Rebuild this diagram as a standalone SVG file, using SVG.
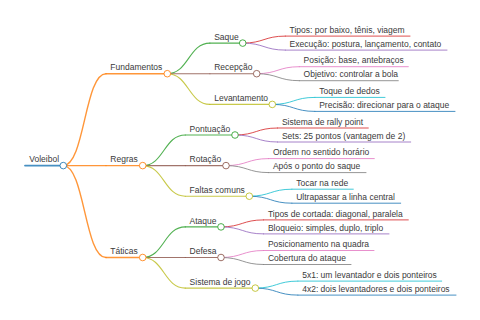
<svg xmlns="http://www.w3.org/2000/svg" width="480" height="320" viewBox="0 0 480 320">
<style>
text{font-family:"Liberation Sans",Arial,sans-serif;font-size:8.5px;fill:#3a3a3a}
path{fill:none;stroke-linecap:round;stroke-opacity:0.82}
circle{fill:#fff;stroke-width:1;stroke-opacity:0.85}
.d0{stroke-width:1.8}.d1{stroke-width:1.4}.d2{stroke-width:1.1}.d3{stroke-width:1}
.blue{stroke:#1f77b4}.orange{stroke:#ff7f0e}.green{stroke:#2ca02c}.brown{stroke:#8c564b}.olive{stroke:#bcbd22}
.red{stroke:#d62728}.purple{stroke:#9467bd}.pink{stroke:#e377c2}.grey{stroke:#7f7f7f}.cyan{stroke:#17becf}
</style>
<rect width="480" height="320" fill="#fff"/>
<g id="connectors">
<path class="d1 orange" d="M63.3 165.6C84.65 165.6 84.65 73.7 106 73.7"/>
<path class="d1 orange" d="M63.3 165.6L106 165.6"/>
<path class="d1 orange" d="M63.3 165.6C84.65 165.6 84.65 257.5 106 257.5"/>
<path class="d2 green" d="M167.3 73.7C188.6 73.7 188.6 43.1 209.9 43.1"/>
<path class="d2 brown" d="M167.3 73.7L209.9 73.7"/>
<path class="d2 olive" d="M167.3 73.7C188.6 73.7 188.6 104.4 209.9 104.4"/>
<path class="d2 green" d="M142.7 165.6C164 165.6 164 135 185.3 135"/>
<path class="d2 brown" d="M142.7 165.6L185.3 165.6"/>
<path class="d2 olive" d="M142.7 165.6C164 165.6 164 196.2 185.3 196.2"/>
<path class="d2 green" d="M142.7 257.5C164 257.5 164 226.9 185.3 226.9"/>
<path class="d2 brown" d="M142.7 257.5L185.3 257.5"/>
<path class="d2 olive" d="M142.7 257.5C164 257.5 164 288.1 185.3 288.1"/>
<path class="d3 red" d="M242.7 43.1C264 43.1 264 36.1 285.3 36.1"/>
<path class="d3 purple" d="M242.7 43.1C264 43.1 264 50.1 285.3 50.1"/>
<path class="d3 pink" d="M256.7 73.7C278 73.7 278 66.7 299.3 66.7"/>
<path class="d3 grey" d="M256.7 73.7C278 73.7 278 80.7 299.3 80.7"/>
<path class="d3 cyan" d="M272.3 104.4C293.6 104.4 293.6 97.4 314.9 97.4"/>
<path class="d3 blue" d="M272.3 104.4C293.6 104.4 293.6 111.4 314.9 111.4"/>
<path class="d3 red" d="M235 135C256.3 135 256.3 128 277.6 128"/>
<path class="d3 purple" d="M235 135C256.3 135 256.3 142 277.6 142"/>
<path class="d3 pink" d="M226 165.6C247.3 165.6 247.3 158.6 268.6 158.6"/>
<path class="d3 grey" d="M226 165.6C247.3 165.6 247.3 172.6 268.6 172.6"/>
<path class="d3 cyan" d="M249.3 196.2C270.6 196.2 270.6 189.2 291.9 189.2"/>
<path class="d3 blue" d="M249.3 196.2C270.6 196.2 270.6 203.2 291.9 203.2"/>
<path class="d3 red" d="M221 226.9C242.3 226.9 242.3 219.9 263.6 219.9"/>
<path class="d3 purple" d="M221 226.9C242.3 226.9 242.3 233.9 263.6 233.9"/>
<path class="d3 pink" d="M221 257.5C242.3 257.5 242.3 250.5 263.6 250.5"/>
<path class="d3 grey" d="M221 257.5C242.3 257.5 242.3 264.5 263.6 264.5"/>
<path class="d3 cyan" d="M255.3 288.1C276.6 288.1 276.6 281.1 297.9 281.1"/>
<path class="d3 blue" d="M255.3 288.1C276.6 288.1 276.6 295.1 297.9 295.1"/>
</g>
<g id="n-voleibol"><path class="d0 blue" d="M25 165.6H63.3"/><circle class="blue" cx="63.3" cy="165.6" r="3.3"/><text x="29.3" y="162.3">Voleibol</text></g>
<g id="n-fundamentos"><path class="d1 orange" d="M106 73.7H167.3"/><circle class="orange" cx="167.3" cy="73.7" r="3.3"/><text x="110.3" y="70.4">Fundamentos</text></g>
<g id="n-regras"><path class="d1 orange" d="M106 165.6H142.7"/><circle class="orange" cx="142.7" cy="165.6" r="3.3"/><text x="110.3" y="162.3">Regras</text></g>
<g id="n-taticas"><path class="d1 orange" d="M106 257.5H142.7"/><circle class="orange" cx="142.7" cy="257.5" r="3.3"/><text x="110.3" y="254.2">Táticas</text></g>
<g id="n-saque"><path class="d2 green" d="M209.9 43.1H242.7"/><circle class="green" cx="242.7" cy="43.1" r="3.3"/><text x="214.2" y="39.8">Saque</text></g>
<g id="n-recepcao"><path class="d2 brown" d="M209.9 73.7H256.7"/><circle class="brown" cx="256.7" cy="73.7" r="3.3"/><text x="214.2" y="70.4">Recepção</text></g>
<g id="n-levantamento"><path class="d2 olive" d="M209.9 104.4H272.3"/><circle class="olive" cx="272.3" cy="104.4" r="3.3"/><text x="214.2" y="101.1">Levantamento</text></g>
<g id="n-pontuacao"><path class="d2 green" d="M185.3 135H235"/><circle class="green" cx="235" cy="135" r="3.3"/><text x="189.6" y="131.7">Pontuação</text></g>
<g id="n-rotacao"><path class="d2 brown" d="M185.3 165.6H226"/><circle class="brown" cx="226" cy="165.6" r="3.3"/><text x="189.6" y="162.3">Rotação</text></g>
<g id="n-faltas"><path class="d2 olive" d="M185.3 196.2H249.3"/><circle class="olive" cx="249.3" cy="196.2" r="3.3"/><text x="189.6" y="192.9">Faltas comuns</text></g>
<g id="n-ataque"><path class="d2 green" d="M185.3 226.9H221"/><circle class="green" cx="221" cy="226.9" r="3.3"/><text x="189.6" y="223.6">Ataque</text></g>
<g id="n-defesa"><path class="d2 brown" d="M185.3 257.5H221"/><circle class="brown" cx="221" cy="257.5" r="3.3"/><text x="189.6" y="254.2">Defesa</text></g>
<g id="n-sistema"><path class="d2 olive" d="M185.3 288.1H255.3"/><circle class="olive" cx="255.3" cy="288.1" r="3.3"/><text x="189.6" y="284.8">Sistema de jogo</text></g>
<g id="l-tipos"><path class="d3 red" d="M285.3 36.1H410"/><text x="289.6" y="32.8">Tipos: por baixo, tênis, viagem</text></g>
<g id="l-execucao"><path class="d3 purple" d="M285.3 50.1H447"/><text x="289.6" y="46.8">Execução: postura, lançamento, contato</text></g>
<g id="l-posicao"><path class="d3 pink" d="M299.3 66.7H408.3"/><text x="303.6" y="63.4">Posição: base, antebraços</text></g>
<g id="l-objetivo"><path class="d3 grey" d="M299.3 80.7H398.3"/><text x="303.6" y="77.4">Objetivo: controlar a bola</text></g>
<g id="l-toque"><path class="d3 cyan" d="M314.9 97.4H385"/><text x="319.2" y="94.1">Toque de dedos</text></g>
<g id="l-precisao"><path class="d3 blue" d="M314.9 111.4H455"/><text x="319.2" y="108.1">Precisão: direcionar para o ataque</text></g>
<g id="l-rally"><path class="d3 red" d="M277.6 128H368.3"/><text x="281.9" y="124.7">Sistema de rally point</text></g>
<g id="l-sets"><path class="d3 purple" d="M277.6 142H410.7"/><text x="281.9" y="138.7">Sets: 25 pontos (vantagem de 2)</text></g>
<g id="l-ordem"><path class="d3 pink" d="M268.6 158.6H374.3"/><text x="272.9" y="155.3">Ordem no sentido horário</text></g>
<g id="l-apos"><path class="d3 grey" d="M268.6 172.6H366"/><text x="272.9" y="169.3">Após o ponto do saque</text></g>
<g id="l-tocar"><path class="d3 cyan" d="M291.9 189.2H353.3"/><text x="296.2" y="185.9">Tocar na rede</text></g>
<g id="l-ultrapassar"><path class="d3 blue" d="M291.9 203.2H400.7"/><text x="296.2" y="199.9">Ultrapassar a linha central</text></g>
<g id="l-cortada"><path class="d3 red" d="M263.6 219.9H408.3"/><text x="267.9" y="216.6">Tipos de cortada: diagonal, paralela</text></g>
<g id="l-bloqueio"><path class="d3 purple" d="M263.6 233.9H389"/><text x="267.9" y="230.6">Bloqueio: simples, duplo, triplo</text></g>
<g id="l-posicionamento"><path class="d3 pink" d="M263.6 250.5H374"/><text x="267.9" y="247.2">Posicionamento na quadra</text></g>
<g id="l-cobertura"><path class="d3 grey" d="M263.6 264.5H351"/><text x="267.9" y="261.2">Cobertura do ataque</text></g>
<g id="l-5x1"><path class="d3 cyan" d="M297.9 281.1H441.7"/><text x="302.2" y="277.8">5x1: um levantador e dois ponteiros</text></g>
<g id="l-4x2"><path class="d3 blue" d="M297.9 295.1H456"/><text x="302.2" y="291.8">4x2: dois levantadores e dois ponteiros</text></g>
</svg>
